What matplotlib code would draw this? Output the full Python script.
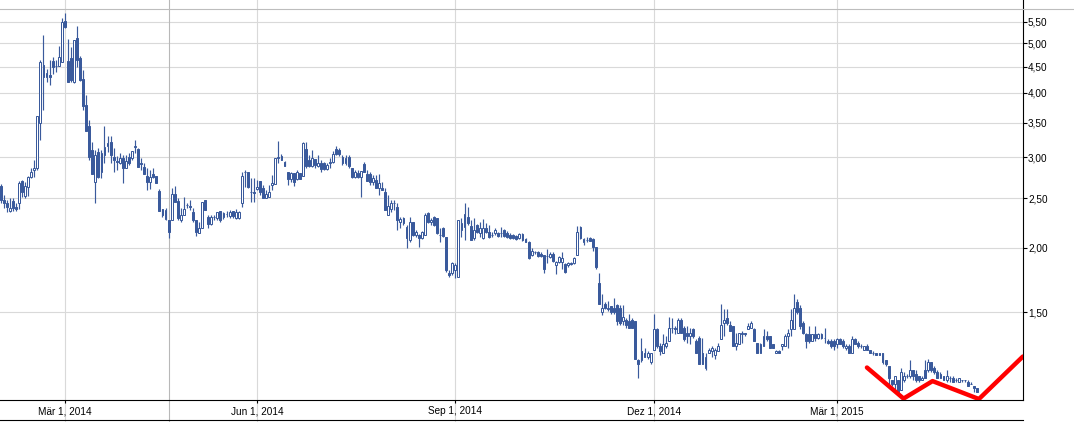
import numpy as np
import pandas as pd
import matplotlib
matplotlib.use("Agg")
import matplotlib.pyplot as plt
from matplotlib.lines import Line2D
from matplotlib.ticker import FixedLocator, FixedFormatter, NullLocator
from pandas.tseries.offsets import CustomBusinessDay

# ---------------- data ----------------
start_date = "2014-01-31"
holidays = ["2014-04-18", "2014-04-21", "2014-12-24", "2014-12-25",
            "2014-12-26", "2014-12-31", "2015-01-01"]

opens = [
    2.64,2.48,2.44,2.36,2.47,2.40,2.44,2.70,2.52,2.63, 2.75,2.83,2.86,3.49,4.53,4.30,4.34,4.61,4.51,4.51,
    4.59,5.51,4.61,4.67,4.20,5.12,4.67,4.26,3.79,3.45, 3.10,2.69,3.07,2.81,
    3.03,3.16,3.21,3.00,2.95,2.92,2.99,2.86,3.01,2.99, 3.14,3.11,2.93,2.87,2.76,2.69,2.79,2.76,2.58,2.38,
    2.28,2.27,2.27,2.55,2.47,2.27,2.32,2.42,2.41,2.35, 2.27,2.14,2.19,2.48,2.30,2.23,2.30,2.29,2.36,2.30,
    2.33,2.31,2.36,2.29,2.29,2.45,
    2.81,2.81,2.57,2.57,2.60,2.70,2.61,2.50,2.51,2.65, 2.66,2.99,3.02,2.94,2.81,2.72,2.80,2.72,2.80,2.76,
    3.11,2.96,2.89,2.98,2.88,2.92,2.92,2.85,2.92,2.94, 3.12,3.10,3.00,2.92,3.00,2.86,2.75,2.80,2.75,2.91,
    2.79,2.78,2.69,2.71,2.62,2.62,2.57,2.32,2.38,2.45, 2.40,
    2.25,2.29,2.20,2.07,2.25,2.12,2.12,2.09,2.12,
    2.34,2.25,2.30,2.29,2.12,2.19,2.10,1.79,1.79,1.81, 1.76,2.17,2.20,2.30,2.21,2.09,2.22,2.14,2.09,2.19,
    2.15,2.12,2.14,2.14,2.14,2.17,2.14,2.12,2.12,2.11, 2.09,2.13,2.08,2.05,1.94,1.96,1.96,1.95,1.94,
    1.93,1.92,1.95,1.85,1.88,1.88,1.86,1.85,1.87,1.87, 1.94,2.20,2.05,2.07,2.09,2.08,2.01,1.71,1.50,1.56,
    1.52,1.54,1.53,1.55,1.53,1.44,1.45,1.44,1.45,1.44, 1.21,1.21,1.25,1.23,1.20,1.27,1.39,1.29,1.25,1.29,
    1.32,
    1.40,1.40,1.37,1.45,1.40,1.37,1.35,1.39,1.32,1.34, 1.25,1.17,1.25,1.26,1.24,1.26,1.33,1.43,1.46,1.42,
    1.41,1.29,1.30,1.36,1.37,1.39,1.40,1.39,1.31,1.25, 1.29,1.35,1.35,1.30,1.25,1.26,1.29,1.29,1.35,1.39,
    1.39,1.57,1.53,1.43,1.36,1.36,1.32,1.36,1.34,1.36, 1.34,1.32,1.32,1.32,1.30,
    1.33,1.32,1.28,1.29,1.25,1.33,1.31,1.29,1.27,1.29, 1.27,1.25,1.25,1.25,1.25,1.21,1.18,1.11,1.09,1.11,
    1.06,1.11,1.13,1.13,1.16,1.14,1.13,1.11,1.16,1.16, 1.20,1.17,1.15,1.12,1.13,1.11,1.12,1.12,1.11,1.10,
    1.11,1.11,1.10,1.09,1.08,1.07,
]
highs = [
    2.66,2.54,2.48,2.50,2.50,2.45,2.70,2.71,2.69,2.76, 2.86,2.96,3.60,4.63,5.18,4.45,4.63,4.69,4.63,4.94,
    5.59,5.72,5.09,4.92,5.07,5.39,4.72,4.43,3.96,3.54, 3.21,3.10,3.13,3.10,
    3.45,3.30,3.30,3.13,3.02,3.06,3.03,3.03,3.06,3.09, 3.24,3.13,2.99,2.93,2.86,2.83,2.86,2.76,2.60,2.38,
    2.39,2.27,2.61,2.64,2.50,2.39,2.51,2.44,2.48,2.39, 2.27,2.25,2.46,2.48,2.32,2.32,2.32,2.35,2.36,2.35,
    2.36,2.37,2.36,2.38,2.36,2.81,
    2.83,2.81,2.73,2.73,2.71,2.70,2.65,2.59,2.65,2.77, 2.99,3.23,3.04,2.95,2.81,2.81,2.80,2.83,2.80,3.21,
    3.21,3.03,3.10,2.98,3.03,2.96,2.94,2.92,2.99,3.09, 3.15,3.13,3.03,3.03,3.03,2.86,2.83,2.83,2.82,2.94,
    2.83,2.81,2.77,2.77,2.78,2.69,2.61,2.54,2.48,2.48, 2.45,
    2.30,2.30,2.22,2.30,2.25,2.17,2.13,2.16,2.34,
    2.35,2.29,2.31,2.29,2.19,2.20,2.10,1.81,1.88,1.87, 2.27,2.29,2.45,2.40,2.27,2.29,2.23,2.25,2.28,2.24,
    2.22,2.15,2.19,2.15,2.20,2.18,2.16,2.14,2.13,2.12, 2.14,2.14,2.09,2.06,2.00,1.97,1.97,1.96,1.94,
    1.99,1.96,1.96,1.89,1.93,1.96,1.87,1.88,1.88,1.92, 2.21,2.21,2.09,2.10,2.10,2.09,2.01,1.79,1.63,1.57,
    1.58,1.54,1.60,1.56,1.55,1.55,1.46,1.49,1.46,1.44, 1.22,1.34,1.28,1.26,1.25,1.49,1.40,1.31,1.36,1.35,
    1.47,
    1.46,1.41,1.46,1.46,1.41,1.41,1.40,1.40,1.33,1.35, 1.34,1.25,1.28,1.29,1.28,1.31,1.56,1.52,1.52,1.44,
    1.41,1.37,1.37,1.38,1.37,1.43,1.44,1.40,1.31,1.31, 1.39,1.38,1.35,1.30,1.27,1.27,1.30,1.36,1.39,1.52,
    1.63,1.59,1.55,1.44,1.37,1.41,1.36,1.41,1.37,1.37, 1.40,1.33,1.33,1.33,1.34,
    1.34,1.33,1.30,1.30,1.35,1.34,1.32,1.30,1.29,1.30, 1.27,1.26,1.25,1.25,1.25,1.21,1.18,1.11,1.13,1.11,
    1.17,1.15,1.14,1.21,1.16,1.16,1.13,1.13,1.21,1.22, 1.20,1.18,1.16,1.15,1.13,1.16,1.13,1.13,1.12,1.12,
    1.11,1.11,1.11,1.10,1.08,1.07,
]
lows = [
    2.45,2.39,2.35,2.35,2.36,2.36,2.38,2.51,2.50,2.52, 2.73,2.75,2.83,3.24,3.71,4.20,4.14,4.35,4.39,4.51,
    4.59,5.35,4.20,4.20,4.18,4.49,4.22,3.71,3.37,2.96, 2.79,2.44,2.73,2.73,
    2.92,3.07,2.92,2.81,2.83,2.91,2.67,2.86,2.90,2.96, 3.06,2.87,2.83,2.78,2.59,2.60,2.73,2.67,2.36,2.30,
    2.27,2.09,2.27,2.46,2.27,2.25,2.32,2.39,2.37,2.25, 2.11,2.14,2.19,2.37,2.19,2.22,2.27,2.27,2.25,2.28,
    2.30,2.29,2.29,2.28,2.28,2.40,
    2.63,2.62,2.46,2.46,2.59,2.54,2.50,2.50,2.51,2.59, 2.66,2.92,2.96,2.88,2.65,2.69,2.64,2.71,2.72,2.76,
    2.86,2.87,2.87,2.86,2.87,2.81,2.83,2.84,2.86,2.93, 3.03,3.02,2.90,2.90,2.86,2.73,2.73,2.73,2.51,2.81,
    2.70,2.65,2.65,2.61,2.54,2.59,2.37,2.32,2.35,2.37, 2.17,
    2.19,2.22,2.00,2.05,2.11,2.10,2.01,2.08,2.12,
    2.24,2.22,2.21,2.13,2.05,2.10,1.80,1.76,1.77,1.75, 1.76,2.10,2.07,2.22,2.07,2.07,2.14,2.10,2.08,2.14,
    2.09,2.10,2.12,2.10,2.10,2.10,2.09,2.08,2.08,2.07, 2.08,2.06,2.05,1.90,1.93,1.95,1.92,1.92,1.79,
    1.87,1.91,1.88,1.78,1.87,1.82,1.79,1.84,1.85,1.86, 1.94,2.08,2.03,2.05,2.06,1.97,1.82,1.56,1.48,1.52,
    1.51,1.49,1.49,1.42,1.42,1.42,1.40,1.40,1.40,1.22, 1.12,1.20,1.23,1.22,1.19,1.27,1.28,1.24,1.25,1.28,
    1.32,
    1.37,1.36,1.37,1.37,1.32,1.31,1.30,1.34,1.25,1.19, 1.19,1.16,1.25,1.23,1.22,1.26,1.33,1.35,1.42,1.38,
    1.29,1.27,1.30,1.31,1.35,1.39,1.40,1.32,1.25,1.25, 1.29,1.32,1.28,1.28,1.25,1.25,1.27,1.29,1.28,1.35,
    1.39,1.49,1.39,1.36,1.28,1.31,1.32,1.32,1.33,1.33, 1.31,1.30,1.28,1.27,1.28,
    1.30,1.28,1.27,1.25,1.25,1.30,1.28,1.28,1.27,1.27, 1.25,1.24,1.24,1.24,1.19,1.18,1.09,1.08,1.06,1.05,
    1.06,1.10,1.12,1.12,1.11,1.10,1.10,1.11,1.12,1.15, 1.15,1.14,1.12,1.12,1.11,1.10,1.10,1.10,1.10,1.10,
    1.10,1.10,1.08,1.09,1.05,1.05,
]
closes = [
    2.48,2.44,2.40,2.39,2.39,2.38,2.67,2.57,2.64,2.75, 2.81,2.86,3.60,4.59,4.30,4.38,4.30,4.49,4.52,4.69,
    5.49,5.37,4.20,4.24,5.07,4.63,4.24,3.77,3.37,3.01, 2.79,3.03,2.75,3.06,
    3.14,3.20,3.03,2.97,2.94,2.99,2.86,2.95,2.93,3.09, 3.15,2.87,2.91,2.79,2.69,2.75,2.75,2.67,2.36,2.32,
    2.37,2.15,2.55,2.46,2.29,2.32,2.38,2.42,2.40,2.27, 2.15,2.19,2.46,2.37,2.23,2.30,2.30,2.35,2.27,2.34,
    2.33,2.35,2.31,2.35,2.35,2.76,
    2.81,2.63,2.57,2.56,2.63,2.57,2.50,2.55,2.57,2.67, 2.99,3.00,2.97,2.88,2.72,2.80,2.69,2.81,2.72,3.20,
    2.88,2.89,2.99,2.90,2.93,2.85,2.85,2.90,2.94,3.05, 3.05,3.04,2.92,2.99,2.89,2.75,2.81,2.75,2.82,2.81,
    2.70,2.69,2.73,2.62,2.68,2.59,2.37,2.41,2.45,2.44, 2.27,
    2.28,2.24,2.09,2.25,2.12,2.15,2.09,2.15,2.32,
    2.25,2.27,2.22,2.14,2.12,2.11,1.81,1.77,1.87,1.85, 2.27,2.24,2.33,2.24,2.07,2.17,2.15,2.19,2.19,2.15,
    2.10,2.12,2.17,2.11,2.14,2.11,2.10,2.09,2.09,2.08, 2.13,2.07,2.05,1.91,1.97,1.96,1.93,1.93,1.82,
    1.93,1.95,1.89,1.88,1.92,1.91,1.80,1.87,1.86,1.91, 2.15,2.09,2.08,2.07,2.06,2.01,1.84,1.56,1.53,1.53,
    1.53,1.50,1.50,1.44,1.43,1.47,1.42,1.40,1.40,1.22, 1.19,1.26,1.23,1.25,1.25,1.39,1.29,1.26,1.30,1.31,
    1.40,
    1.40,1.39,1.45,1.37,1.33,1.35,1.37,1.35,1.25,1.19, 1.19,1.23,1.27,1.28,1.27,1.29,1.42,1.45,1.43,1.38,
    1.29,1.31,1.37,1.37,1.36,1.41,1.43,1.32,1.25,1.30, 1.35,1.33,1.28,1.28,1.26,1.25,1.30,1.35,1.37,1.45,
    1.53,1.50,1.41,1.37,1.32,1.32,1.36,1.34,1.36,1.34, 1.34,1.31,1.29,1.29,1.33,
    1.30,1.29,1.29,1.25,1.33,1.30,1.29,1.29,1.29,1.27, 1.25,1.25,1.24,1.24,1.20,1.19,1.12,1.09,1.13,1.05,
    1.15,1.13,1.13,1.16,1.13,1.11,1.11,1.12,1.12,1.20, 1.16,1.15,1.12,1.14,1.11,1.13,1.12,1.10,1.11,1.12,
    1.11,1.11,1.08,1.09,1.07,1.05,
]

price_ticks = [1.50, 2.00, 2.50, 3.00, 3.50, 4.00, 4.50, 5.00, 5.50]
tick_months = ["2014-03", "2014-06", "2014-09", "2014-12", "2015-03"]
month_abbr_de = {1: "Jan", 2: "Feb", 3: "Mär", 4: "Apr", 5: "Mai", 6: "Jun",
                 7: "Jul", 8: "Aug", 9: "Sep", 10: "Okt", 11: "Nov", 12: "Dez"}
marker_date = "2014-04-22"

# hand-drawn red "W" annotation (trading-day index, price)
red_x = [283.9, 295.9, 305.4, 320.6, 335.0]
red_y = [1.172, 1.020, 1.103, 1.018, 1.231]

# ---------------- derived ----------------
n = len(closes)
assert len(opens) == n and len(highs) == n and len(lows) == n, (len(opens), len(highs), len(lows), n)
cbd = CustomBusinessDay(holidays=holidays)
dates = pd.date_range(start_date, periods=n + 40, freq=cbd)
idx = np.arange(n)
o = np.array(opens); h = np.array(highs); l = np.array(lows); c = np.array(closes)

tick_pos = [int(np.searchsorted(dates.values, np.datetime64(m + "-01"))) for m in tick_months]
tick_lab = [f"{month_abbr_de[pd.Timestamp(m + '-01').month]} 1, {pd.Timestamp(m + '-01').year}"
            for m in tick_months]
marker_pos = int(np.searchsorted(dates.values, np.datetime64(marker_date)))

# ---------------- figure ----------------
plt.rcParams['font.family'] = ['Liberation Sans', 'DejaVu Sans']
W, H = 1074, 422
fig = plt.figure(figsize=(W / 100, H / 100), dpi=100)
ax_right_px = 1022.7
ax_bottom_px = 400
ax = fig.add_axes([0, (H - ax_bottom_px) / H, ax_right_px / W, ax_bottom_px / H])

blue = "#3a5a9c"
grid_c = "#d9d9d9"

ax.set_yscale('log')
ax.set_ylim(1.0136, 6.06)
ax.set_xlim(-0.25, 334.95)

# horizontal grid
for p in price_ticks:
    ax.axhline(p, color=grid_c, lw=0.8, zorder=0)
# vertical grid (extends through the date band)
ext = -(H - ax_bottom_px) / ax_bottom_px
for tp in tick_pos:
    ax.axvline(tp, ymin=ext, ymax=1, color=grid_c, lw=0.8, zorder=0, clip_on=False)
ax.axvline(marker_pos, ymin=ext, ymax=1, color="#b8b8b8", lw=0.8, zorder=0, clip_on=False)

# candles
ax.vlines(idx, l, h, color=blue, lw=0.85, zorder=2)
up = c >= o
dn = ~up
bw = 0.62
ax.bar(idx[up], (c - o)[up], bottom=o[up], width=bw, facecolor="white",
       edgecolor=blue, lw=0.72, zorder=3)
ax.bar(idx[dn], (c - o)[dn], bottom=o[dn], width=bw, facecolor=blue,
       edgecolor=blue, lw=0.72, zorder=3)

# red annotation
ax.plot(red_x, red_y, color="#ff0000", lw=3.2, solid_joinstyle='round',
        solid_capstyle='round', zorder=5)

# axes styling
for s in ["left", "top"]:
    ax.spines[s].set_visible(False)
for s in ["right", "bottom"]:
    ax.spines[s].set_color("black")
    ax.spines[s].set_linewidth(0.8)

ax.yaxis.tick_right()
ax.yaxis.set_major_locator(FixedLocator(price_ticks))
ax.yaxis.set_major_formatter(FixedFormatter([f"{p:.2f}".replace(".", ",") for p in price_ticks]))
ax.yaxis.set_minor_locator(NullLocator())
ax.tick_params(axis='y', direction='out', length=2.6, width=0.8, pad=1.2,
               labelsize=7.2, colors='black')

ax.xaxis.set_major_locator(FixedLocator(tick_pos))
ax.xaxis.set_major_formatter(FixedFormatter(tick_lab))
ax.xaxis.set_minor_locator(NullLocator())
ax.tick_params(axis='x', direction='out', length=2.4, width=0.8, pad=2.2,
               labelsize=7.2, colors='black')

# frame lines outside the axes
fig.add_artist(Line2D([0, 1], [1 - 9.3 / H, 1 - 9.3 / H], transform=fig.transFigure,
                      color="#bdbdbd", lw=0.8))
fig.add_artist(Line2D([0, ax_right_px / W], [2 / H, 2 / H], transform=fig.transFigure,
                      color="black", lw=0.8))

fig.savefig("out.png", dpi=100)
